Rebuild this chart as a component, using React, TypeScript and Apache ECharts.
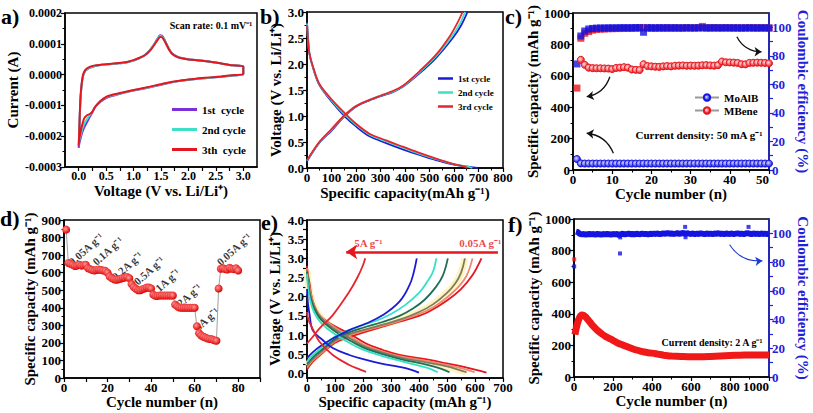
import React, { useEffect, useRef } from 'react';
import * as echarts from 'echarts';

const FONT = "'Liberation Serif', 'Times New Roman', serif";

// ---------- a) CV (current in units of 1e-4 A) ----------
const cvUpperV = [0.0, 0.01, 0.02, 0.03, 0.05, 0.08, 0.12, 0.2, 0.3, 0.4, 0.5, 0.6, 0.7, 0.8, 0.9, 1.0, 1.1, 1.2, 1.3, 1.38, 1.44, 1.48, 1.52, 1.56, 1.6, 1.65, 1.7, 1.8, 1.9, 2.0, 2.2, 2.4, 2.6, 2.8, 3.0];
const cvUpper1 = [-2.38, -1.9, -1.35, -0.9, -0.4, -0.05, 0.12, 0.22, 0.28, 0.31, 0.33, 0.34, 0.36, 0.38, 0.41, 0.46, 0.53, 0.63, 0.8, 1.0, 1.18, 1.28, 1.26, 1.15, 1.0, 0.82, 0.69, 0.58, 0.53, 0.5, 0.46, 0.42, 0.36, 0.3, 0.27];
const cvUpper2 = [-2.3, -1.85, -1.3, -0.85, -0.38, -0.03, 0.13, 0.23, 0.29, 0.31, 0.33, 0.34, 0.36, 0.38, 0.41, 0.46, 0.53, 0.62, 0.79, 0.99, 1.16, 1.25, 1.24, 1.13, 0.99, 0.81, 0.68, 0.57, 0.52, 0.49, 0.46, 0.42, 0.36, 0.3, 0.26];
const cvUpper3 = [-2.3, -1.8, -1.25, -0.8, -0.35, 0.0, 0.15, 0.25, 0.3, 0.32, 0.34, 0.35, 0.37, 0.39, 0.42, 0.47, 0.54, 0.62, 0.78, 0.97, 1.13, 1.22, 1.21, 1.11, 0.97, 0.8, 0.68, 0.57, 0.52, 0.49, 0.46, 0.42, 0.36, 0.3, 0.26];
const cvLowerV = [3.0, 2.8, 2.6, 2.4, 2.2, 2.0, 1.8, 1.6, 1.4, 1.2, 1.0, 0.8, 0.7, 0.6, 0.5, 0.4, 0.3, 0.25, 0.2, 0.15, 0.1, 0.06, 0.03, 0.01, 0.0];
const cvLower1 = [0.0, -0.03, -0.07, -0.1, -0.13, -0.17, -0.22, -0.29, -0.37, -0.45, -0.52, -0.6, -0.65, -0.7, -0.76, -0.88, -1.05, -1.22, -1.38, -1.55, -1.72, -1.9, -2.1, -2.25, -2.38];
const cvLower2 = [0.01, -0.03, -0.06, -0.1, -0.13, -0.17, -0.22, -0.28, -0.36, -0.44, -0.51, -0.59, -0.64, -0.68, -0.74, -0.86, -1.05, -1.2, -1.32, -1.45, -1.6, -1.8, -2.0, -2.15, -2.3];
const cvLower3 = [0.02, -0.02, -0.06, -0.09, -0.12, -0.16, -0.21, -0.27, -0.35, -0.43, -0.5, -0.58, -0.62, -0.66, -0.72, -0.85, -1.05, -1.2, -1.28, -1.32, -1.42, -1.65, -1.9, -2.1, -2.3];

// ---------- b) charge / discharge ----------
const bDis1Cap = [0, 5, 10, 23, 50, 100, 153, 200, 255, 323, 391, 459, 527, 595, 663, 697];
const bDis1V = [2.8, 2.45, 2.2, 1.95, 1.6, 1.28, 1.0, 0.8, 0.61, 0.48, 0.36, 0.25, 0.15, 0.07, 0.02, 0.0];
const bDis2Cap = [0, 5, 10, 23, 50, 100, 153, 200, 255, 323, 391, 459, 527, 595, 650, 675];
const bDis2V = [2.78, 2.42, 2.2, 1.96, 1.61, 1.3, 1.03, 0.83, 0.64, 0.51, 0.39, 0.27, 0.17, 0.08, 0.03, 0.0];
const bDis3Cap = [0, 5, 10, 23, 50, 100, 153, 200, 255, 323, 391, 459, 527, 595, 640, 655];
const bDis3V = [2.75, 2.4, 2.2, 1.97, 1.62, 1.32, 1.06, 0.85, 0.66, 0.53, 0.41, 0.29, 0.18, 0.08, 0.03, 0.0];
const bCh1Cap = [0, 50, 100, 150, 200, 255, 300, 350, 391, 459, 527, 595, 630, 655];
const bCh1V = [0.13, 0.48, 0.72, 0.98, 1.18, 1.3, 1.38, 1.46, 1.56, 1.82, 2.12, 2.5, 2.75, 3.0];
const bCh2Cap = [0, 50, 100, 150, 200, 255, 300, 350, 391, 459, 527, 590, 625, 645];
const bCh2V = [0.14, 0.49, 0.74, 0.99, 1.19, 1.31, 1.39, 1.47, 1.57, 1.84, 2.15, 2.52, 2.78, 3.0];
const bCh3Cap = [0, 50, 100, 150, 200, 255, 300, 350, 391, 459, 527, 585, 615, 635];
const bCh3V = [0.15, 0.5, 0.75, 1.0, 1.19, 1.31, 1.39, 1.48, 1.58, 1.86, 2.18, 2.55, 2.8, 3.0];

// ---------- c) cycling at 50 mA g-1 ----------
const cCycles = Array.from({ length: 50 }, (_, i) => i + 1);
const moalbCap = [70, 42, 41, 41, 41, 41, 41, 41, 41, 41, 41, 41, 41, 41, 41, 41, 41, 41, 41, 41, 41, 41, 41, 41, 41, 41, 41, 41, 41, 41, 41, 41, 41, 41, 41, 41, 41, 41, 41, 41, 41, 41, 41, 41, 41, 41, 41, 41, 41, 41];
const mbeneCap = [null, 702, 670, 652, 649, 648, 648, 647, 646, 643, 650, 652, 655, 652, 640, 638, 637, 674, 662, 660, 658, 657, 660, 662, 660, 664, 665, 666, 664, 665, 664, 665, 667, 668, 666, 665, 668, 691, 686, 685, 684, 682, 674, 673, 682, 683, 684, 683, 682, 680];
const moalbCE = [74.3, 93.9, 97.4, 98.8, 99.2, 99.4, 99.5, 99.5, 99.6, 99.6, 99.6, 99.7, 99.7, 99.7, 99.7, 99.8, 99.8, 96.5, 99.7, 99.7, 99.6, 99.7, 99.6, 99.7, 99.6, 99.7, 99.6, 99.6, 99.7, 99.6, 99.6, 99.7, 99.6, 99.6, 99.6, 99.7, 99.6, 99.6, 99.7, 99.6, 99.6, 99.6, 99.5, 99.6, 99.6, 99.6, 99.5, 99.6, 99.6, 99.5];
const mbeneCE = [57.4, 92.3, 95.8, 97.0, 98.0, 98.5, 98.7, 98.8, 99.0, 99.0, 99.1, 99.1, 99.2, 99.2, 99.2, 99.3, 99.3, 99.8, 99.3, 99.3, 99.3, 99.4, 99.4, 99.4, 99.4, 99.4, 99.4, 99.4, 99.5, 99.5, 99.5, 99.5, 100.6, 99.5, 99.5, 99.5, 99.5, 99.5, 99.5, 99.5, 99.5, 99.5, 99.5, 99.5, 99.6, 99.5, 99.6, 99.5, 99.5, 99.5];
// curved guide arrows in c (cycle, capacity): start / end
const cArrowStart = [[9.4, 594], [10.3, 106], [41.8, 849]];
const cArrowEnd = [[3.5, 467], [3.5, 234], [48.1, 753]];

// ---------- d) rate capability ----------
const dCycles = Array.from({ length: 80 }, (_, i) => i + 1);
const rateCap = [
  845, 655, 650, 645, 638, 640, 645, 640, 642, 645,
  625, 620, 615, 612, 615, 618, 615, 612, 610, 600,
  578, 568, 562, 560, 562, 565, 570, 572, 575, 568,
  535, 518, 508, 500, 500, 505, 510, 515, 515, 510,
  475, 468, 468, 470, 470, 470, 470, 470, 470, 470,
  418, 408, 402, 400, 400, 400, 400, 400, 400, 400,
  295, 255, 242, 235, 230, 225, 222, 220, 215, 212,
  510, 622, 625, 620, 618, 628, 622, 620, 625, 612];
const rateLabels = ['0.05A g⁻¹', '0.1A g⁻¹', '0.2A g⁻¹', '0.5A g⁻¹', '1A g⁻¹', '2A g⁻¹', '5A g⁻¹', '0.05A g⁻¹'];
const rateLabelX = [10, 20, 29, 39, 47.5, 57.5, 65.5, 78];
const rateLabelY = [735, 724, 639, 612, 558, 473, 336, 734];

// ---------- e) curves at different rates ----------
const eNames = ['0.05', '0.1', '0.2', '0.5', '1', '2', '5'];
const eColors = ['#E5161E', '#F08674', '#7E7B60', '#1F6E5A', '#33E0C8', '#1B1BD6', '#E5262E'];
const eChCap = [
  [0, 20, 50, 100, 150, 211, 270, 330, 400, 438, 500, 550, 590, 623],
  [0, 20, 50, 100, 150, 200, 270, 330, 400, 450, 500, 540, 570, 591],
  [0, 20, 50, 100, 150, 200, 270, 330, 400, 450, 500, 530, 550, 564],
  [0, 20, 50, 100, 150, 200, 270, 330, 380, 420, 460, 485, 503],
  [0, 20, 50, 100, 150, 200, 250, 300, 350, 400, 430, 450, 462],
  [0, 20, 50, 92, 151, 211, 271, 330, 366, 380, 392],
  [0, 20, 44, 92, 151, 180, 200, 208]];
const eChV = [
  [0.1, 0.3, 0.5, 0.8, 0.95, 1.09, 1.22, 1.35, 1.5, 1.62, 1.9, 2.2, 2.55, 3.0],
  [0.15, 0.33, 0.52, 0.83, 0.99, 1.1, 1.24, 1.37, 1.55, 1.72, 1.98, 2.25, 2.55, 3.0],
  [0.2, 0.37, 0.56, 0.86, 1.02, 1.13, 1.27, 1.4, 1.6, 1.8, 2.1, 2.35, 2.62, 3.0],
  [0.25, 0.42, 0.6, 0.9, 1.07, 1.19, 1.34, 1.5, 1.7, 1.92, 2.25, 2.55, 3.0],
  [0.3, 0.47, 0.66, 0.96, 1.13, 1.26, 1.38, 1.55, 1.78, 2.1, 2.4, 2.65, 3.0],
  [0.4, 0.55, 0.72, 0.91, 1.13, 1.3, 1.52, 1.87, 2.3, 2.6, 3.0],
  [0.78, 0.95, 1.17, 1.52, 2.13, 2.5, 2.82, 3.0]];
const eDisCap = [
  [0, 3, 8, 20, 44, 92, 151, 211, 271, 330, 438, 500, 560, 600, 641],
  [0, 3, 10, 25, 50, 100, 150, 200, 270, 330, 430, 500, 560, 599],
  [0, 3, 10, 25, 50, 100, 150, 200, 270, 330, 430, 500, 540, 570],
  [0, 3, 10, 25, 50, 100, 150, 200, 270, 330, 430, 480, 509],
  [0, 3, 10, 25, 50, 100, 150, 200, 270, 330, 400, 440, 467],
  [0, 3, 10, 20, 56, 92, 151, 211, 270, 330, 370, 400],
  [0, 5, 20, 44, 92, 151, 190, 211]];
const eDisV = [
  [2.8, 2.6, 2.39, 1.9, 1.52, 1.26, 1.04, 0.78, 0.61, 0.48, 0.35, 0.26, 0.17, 0.1, 0.02],
  [2.75, 2.5, 2.2, 1.8, 1.48, 1.2, 0.98, 0.76, 0.57, 0.45, 0.32, 0.22, 0.12, 0.03],
  [2.7, 2.45, 2.1, 1.75, 1.45, 1.15, 0.93, 0.72, 0.54, 0.42, 0.28, 0.18, 0.1, 0.03],
  [2.65, 2.4, 2.05, 1.7, 1.4, 1.1, 0.87, 0.68, 0.5, 0.38, 0.22, 0.12, 0.03],
  [2.6, 2.3, 1.95, 1.6, 1.32, 1.02, 0.8, 0.62, 0.45, 0.33, 0.2, 0.12, 0.03],
  [2.2, 1.85, 1.5, 1.13, 0.87, 0.66, 0.48, 0.35, 0.25, 0.17, 0.1, 0.02],
  [1.6, 1.4, 1.17, 0.83, 0.48, 0.22, 0.1, 0.04]];
const eArrow = [[682, 3.17], [140, 3.17]];

// ---------- f) long cycling at 2 A g-1 ----------
const fCapCycles = [5, 10, 20, 30, 40, 50, 60, 70, 80, 100, 120, 140, 160, 180, 200, 220, 240, 260, 280, 300, 320, 340, 360, 380, 400, 420, 440, 460, 480, 500, 550, 600, 650, 700, 750, 800, 850, 900, 950, 1000];
const fCap = [268, 300, 350, 380, 392, 390, 380, 365, 350, 320, 295, 275, 258, 245, 232, 218, 207, 198, 188, 179, 171, 164, 158, 154, 151, 147, 142, 138, 135, 133, 130, 128, 128, 130, 133, 136, 138, 139, 140, 140];
const fCapFirst = [[1, 745]];
const fCECycles = Array.from({ length: 100 }, (_, i) => (i + 1) * 10);
const fCE = [
  101.2, 100.8, 99.6, 99.3, 99.5, 99.2, 99.4, 99.6, 99.3, 99.5,
  99.2, 99.6, 99.4, 99.1, 99.5, 99.3, 99.6, 99.4, 99.2, 99.5,
  99.3, 99.6, 98.8, 99.4, 99.7, 99.3, 99.5, 99.8, 99.4, 99.6,
  99.3, 99.7, 99.5, 99.4, 99.8, 99.5, 99.6, 99.3, 99.7, 99.5,
  99.8, 99.6, 99.9, 99.5, 99.7, 100.0, 99.6, 100.3, 99.7, 99.9,
  99.6, 99.8, 100.1, 99.7, 99.9, 100.4, 99.5, 100.2, 99.8, 99.6,
  99.9, 99.5, 99.8, 99.6, 100.0, 99.7, 99.5, 99.9, 99.6, 99.8,
  99.5, 99.9, 99.7, 100.1, 99.6, 99.8, 99.5, 99.9, 99.7, 99.6,
  99.9, 99.5, 99.8, 100.0, 99.6, 99.8, 99.5, 99.9, 100.2, 99.7,
  99.5, 99.9, 99.6, 99.8, 99.5, 99.9, 99.6, 99.8, 99.5, 99.7];
const fCEOutliers = [[1, 77], [236, 86], [237, 97.2], [570, 104.5], [572, 97.3], [895, 104.5]];
const fArrow = [[798, 92.1], [966, 80.9]]; // in CE units

// ---------- helpers ----------
const zip = (xs: number[], ys: (number | null)[]) => xs.map((x, i) => [x, ys[i] == null ? '-' : ys[i]]);
const range = (a: number, b: number, s: number) => {
  const out: number[] = [];
  for (let v = a; v <= b + 1e-9; v += s) out.push(Math.round(v * 1000) / 1000);
  return out;
};

function vAxis(p: any) {
  const color = p.color || '#000';
  const ax: any = {
    type: 'value', gridIndex: p.grid, min: p.min, max: p.max,
    name: p.name, nameLocation: 'middle', nameGap: p.nameGap,
    nameTextStyle: { color, fontFamily: FONT, fontWeight: 'bold', fontSize: p.nameSize || 15 },
    axisLine: { show: true, onZero: false, lineStyle: { color, width: 1.5 } },
    axisTick: { show: true, length: 4, lineStyle: { color, width: 1.2 } },
    minorTick: { show: !p.tickValues, splitNumber: 2, length: 2.5, lineStyle: { color, width: 1 } },
    splitLine: { show: false },
    axisLabel: { color, fontFamily: FONT, fontWeight: 'bold', fontSize: p.labelSize || 13, margin: 3, formatter: p.fmt || ((v: number) => String(v)) },
  };
  if (p.position) ax.position = p.position;
  if (p.nameRotate != null) ax.nameRotate = p.nameRotate;
  if (p.interval != null) ax.interval = p.interval;
  if (p.labelValues) ax.axisLabel.customValues = p.labelValues;
  if (p.tickValues) ax.axisTick.customValues = p.tickValues;
  if (p.alignMax) ax.axisLabel.alignMaxLabel = p.alignMax;
  return ax;
}

const f1 = (v: number) => (Math.abs(v) < 1e-9 ? 0 : v).toFixed(1);

function ballGradient(light: string, dark: string) {
  return new echarts.graphic.RadialGradient(0.4, 0.4, 0.6, [
    { offset: 0, color: light },
    { offset: 1, color: dark },
  ]);
}

function textEl(text: string, x: number, y: number, size: number, fill = '#000', align = 'left') {
  return {
    type: 'text', x, y, z: 100,
    style: { text, fill, font: `bold ${size}px ${FONT}`, align, textAlign: align, verticalAlign: 'middle', textVerticalAlign: 'middle' },
  };
}

function arrows(xi: number, yi: number, starts: number[][], ends: number[][], curv: number[], color: string, width: number, size: number) {
  return {
    type: 'lines', coordinateSystem: 'cartesian2d', xAxisIndex: xi, yAxisIndex: yi, silent: true, z: 5,
    symbol: ['none', 'arrow'], symbolSize: size,
    data: starts.map((s, i) => ({ coords: [s, ends[i]], lineStyle: { curveness: curv[i] } })),
    lineStyle: { color, width, opacity: 1, type: 'solid' },
  };
}

function buildOption() {
  const blue = '#1E22D8';

  const grid = [
    { left: 65, top: 13, width: 192, height: 154 },
    { left: 307, top: 12, width: 196, height: 156 },
    { left: 573, top: 13, width: 196, height: 157 },
    { left: 64, top: 220, width: 196, height: 158 },
    { left: 307, top: 220, width: 196, height: 158 },
    { left: 574, top: 219, width: 195, height: 158 },
  ].map((g) => ({ ...g, show: true, borderColor: '#000', borderWidth: 1.5, backgroundColor: 'transparent', containLabel: false }));

  const xAxis = [
    vAxis({ grid: 0, min: -0.25, max: 3.25, labelValues: range(0, 3, 0.5), tickValues: range(0, 3, 0.25), fmt: f1, name: 'Voltage (V vs. Li/Li⁺)', nameGap: 16, labelSize: 12 }),
    vAxis({ grid: 1, min: 0, max: 800, interval: 100, name: 'Specific capacity(mAh g⁻¹)', nameGap: 17 }),
    vAxis({ grid: 2, min: 0, max: 50, interval: 10, name: 'Cycle number (n)', nameGap: 15, alignMax: 'right' }),
    vAxis({ grid: 3, min: 0, max: 90, labelValues: [0, 20, 40, 60, 80], tickValues: range(0, 90, 10), name: 'Cycle number (n)', nameGap: 15 }),
    vAxis({ grid: 4, min: 0, max: 700, interval: 100, name: 'Specific capacity (mAh g⁻¹)', nameGap: 16 }),
    vAxis({ grid: 5, min: 0, max: 1000, interval: 200, name: 'Cycle number (n)', nameGap: 15, alignMax: 'right' }),
  ];

  const yAxis = [
    vAxis({ grid: 0, min: -0.0003, max: 0.0002, interval: 0.0001, fmt: (v: number) => (Math.abs(v) < 1e-12 ? 0 : v).toFixed(4), name: 'Current (A)', nameGap: 45, labelSize: 12 }),
    vAxis({ grid: 1, min: 0, max: 3, interval: 0.5, fmt: f1, name: 'Voltage (V vs. Li/Li⁺)', nameGap: 20 }),
    vAxis({ grid: 2, min: 0, max: 1000, interval: 200, name: 'Specific capacity (mAh g⁻¹)', nameGap: 32 }),
    vAxis({ grid: 2, min: 0, max: 110, position: 'right', color: blue, labelValues: range(0, 100, 20), tickValues: range(0, 100, 10), name: 'Coulombic efficiency (%)', nameGap: 26, nameRotate: -90 }),
    vAxis({ grid: 3, min: 0, max: 900, interval: 100, name: 'Specific capacity (mAh g⁻¹)', nameGap: 26 }),
    vAxis({ grid: 4, min: -0.12, max: 4, labelValues: range(0, 4, 0.5), tickValues: range(0, 4, 0.25), fmt: f1, name: 'Voltage (V vs. Li/Li⁺)', nameGap: 25 }),
    vAxis({ grid: 5, min: 0, max: 1000, interval: 200, name: 'Specific capacity (mAh g⁻¹)', nameGap: 30 }),
    vAxis({ grid: 5, min: 0, max: 110, position: 'right', color: blue, labelValues: range(0, 100, 20), tickValues: range(0, 100, 10), name: 'Coulombic efficiency (%)', nameGap: 26, nameRotate: -90 }),
  ];

  const series: any[] = [];
  const line = (name: string, xi: number, yi: number, data: any[], color: string, width = 1.8, extra: any = {}) => ({
    type: 'line', name, xAxisIndex: xi, yAxisIndex: yi, data, symbol: 'none', smooth: 0.3,
    lineStyle: { color, width }, itemStyle: { color }, silent: true, ...extra,
  });

  // a
  const cvColors = ['#7B30D8', '#3DE0C6', '#E5161E'];
  const cvU = [cvUpper1, cvUpper2, cvUpper3];
  const cvL = [cvLower1, cvLower2, cvLower3];
  ['a1', 'a2', 'a3'].forEach((n, i) => {
    const data = cvUpperV.map((v, j) => [v, cvU[i][j] * 1e-4]).concat(cvLowerV.map((v, j) => [v, cvL[i][j] * 1e-4]));
    series.push(line(n, 0, 0, data, cvColors[i], 2, { smooth: 0.2 }));
  });

  // b
  const bColors = ['#1B1BD6', '#3DE0C6', '#E5262E'];
  const bDis = [[bDis1Cap, bDis1V], [bDis2Cap, bDis2V], [bDis3Cap, bDis3V]];
  const bCh = [[bCh1Cap, bCh1V], [bCh2Cap, bCh2V], [bCh3Cap, bCh3V]];
  ['b1', 'b2', 'b3'].forEach((n, i) => {
    series.push(line(n, 1, 1, zip(bDis[i][0], bDis[i][1]), bColors[i], 1.8));
    series.push(line(n, 1, 1, zip(bCh[i][0], bCh[i][1]), bColors[i], 1.8));
  });

  // c
  series.push({
    type: 'scatter', name: 'MBeneCE', xAxisIndex: 2, yAxisIndex: 3, symbol: 'rect', symbolSize: 7,
    data: zip(cCycles, mbeneCE), itemStyle: { color: '#E8141C' }, silent: true,
  });
  series.push({
    type: 'scatter', name: 'MoAlBCE', xAxisIndex: 2, yAxisIndex: 3, symbol: 'rect', symbolSize: 7,
    data: zip(cCycles, moalbCE), itemStyle: { color: '#1414E0' }, silent: true,
  });
  series.push({
    type: 'line', name: 'MoAlB', xAxisIndex: 2, yAxisIndex: 2, data: zip(cCycles, moalbCap),
    symbol: 'circle', symbolSize: 7, showSymbol: true, lineStyle: { color: '#999', width: 0.8 },
    itemStyle: { color: ballGradient('#d8d8ff', '#1414E0'), borderColor: '#1414E0', borderWidth: 1 }, silent: true,
  });
  series.push({
    type: 'line', name: 'MBene', xAxisIndex: 2, yAxisIndex: 2, data: zip(cCycles, mbeneCap),
    symbol: 'circle', symbolSize: 7, showSymbol: true, lineStyle: { color: '#999', width: 0.8 },
    itemStyle: { color: ballGradient('#ffe0e0', '#E8141C'), borderColor: '#E8141C', borderWidth: 1 }, silent: true,
  });
  series.push(arrows(2, 2, cArrowStart, cArrowEnd, [0.3, -0.3, -0.3], '#111', 1.3, 7));

  // d
  series.push({
    type: 'line', name: 'rate', xAxisIndex: 3, yAxisIndex: 4, data: zip(dCycles, rateCap),
    symbol: 'circle', symbolSize: 8, showSymbol: true, lineStyle: { color: '#888', width: 0.8 },
    itemStyle: { color: ballGradient('#ff9a9a', '#E00000') }, silent: true,
  });
  series.push({
    type: 'scatter', name: 'rateLabels', xAxisIndex: 3, yAxisIndex: 4, symbolSize: 0, silent: true,
    data: rateLabels.map((t, i) => ({ name: t, value: [rateLabelX[i], rateLabelY[i]] })),
    label: { show: true, position: 'inside', rotate: 42, formatter: '{b}', color: '#000', fontFamily: FONT, fontWeight: 'bold', fontSize: 11 },
  });

  // e : pale yellow halo under the middle curves, then the curves
  series.push(line('eHaloC', 4, 5, zip(eChCap[2], eChV[2]), '#FFF4BE', 7, { smooth: 0.4 }));
  series.push(line('eHaloD', 4, 5, zip(eDisCap[2], eDisV[2]), '#FFF4BE', 7, { smooth: 0.4 }));
  eNames.forEach((n, i) => {
    series.push(line('e' + n + 'c', 4, 5, zip(eChCap[i], eChV[i]), eColors[i], 1.8, { smooth: 0.4 }));
    series.push(line('e' + n + 'd', 4, 5, zip(eDisCap[i], eDisV[i]), eColors[i], 1.8, { smooth: 0.4 }));
  });
  series.push(arrows(4, 5, [eArrow[0]], [eArrow[1]], [0], '#E5161E', 2.5, 11));
  series.push({
    type: 'scatter', name: 'eLabels', xAxisIndex: 4, yAxisIndex: 5, symbolSize: 0, silent: true,
    data: [{ name: '5A g⁻¹', value: [219, 3.41] }, { name: '0.05A g⁻¹', value: [619, 3.39] }],
    label: { show: true, position: 'inside', formatter: '{b}', color: '#E5161E', fontFamily: FONT, fontWeight: 'bold', fontSize: 11 },
  });

  // f
  series.push(line('fCap', 5, 6, zip(fCapCycles, fCap), '#F01818', 7, { smooth: 0.3 }));
  series.push({
    type: 'scatter', name: 'fCapFirst', xAxisIndex: 5, yAxisIndex: 6, symbol: 'rect', symbolSize: 4,
    data: fCapFirst, itemStyle: { color: '#F01818' }, silent: true,
  });
  series.push(line('fCE', 5, 7, zip(fCECycles, fCE), '#1414E0', 6, { smooth: false }));
  series.push({
    type: 'scatter', name: 'fCEOut', xAxisIndex: 5, yAxisIndex: 7, symbol: 'rect', symbolSize: 4,
    data: fCEOutliers, itemStyle: { color: '#1414E0' }, silent: true,
  });
  series.push(arrows(5, 7, [fArrow[0]], [fArrow[1]], [-0.3], '#1E3AD0', 1.2, 7));

  const legendText: Record<string, string> = {
    a1: '1st  cycle', a2: '2nd cycle', a3: '3th  cycle',
    b1: '1st cycle', b2: '2nd cycle', b3: '3rd cycle',
  };
  const legTS = (size: number) => ({ color: '#000', fontFamily: FONT, fontWeight: 'bold', fontSize: size });
  const legend = [
    { data: ['a1', 'a2', 'a3'], icon: 'rect', orient: 'vertical', left: 172, top: 104, itemWidth: 25, itemHeight: 3, itemGap: 9, selectedMode: false, formatter: (n: string) => legendText[n], textStyle: legTS(11), padding: 0 },
    { data: ['b1', 'b2', 'b3'], icon: 'rect', orient: 'vertical', left: 438, top: 74, itemWidth: 15, itemHeight: 2.5, itemGap: 5, selectedMode: false, formatter: (n: string) => legendText[n], textStyle: legTS(9), padding: 0 },
    { data: ['MoAlB', 'MBene'], orient: 'vertical', left: 694, top: 92, itemWidth: 24, itemHeight: 8, itemGap: 2, selectedMode: false, textStyle: legTS(11), padding: 0 },
  ];

  const graphic = [
    textEl('a)', 1, 16, 22),
    textEl('b)', 260, 16, 22),
    textEl('c)', 505, 16, 22),
    textEl('d)', 0, 218, 22),
    textEl('e)', 261, 222, 22),
    textEl('f)', 508, 224, 22),
    textEl('Scan rate: 0.1 mV⁻¹', 211, 25, 10, '#000', 'center'),
    textEl('Current density: 50 mA g⁻¹', 699, 135, 11, '#000', 'center'),
    textEl('Current density: 2 A g⁻¹', 712, 342, 10, '#000', 'center'),
  ];

  return {
    animation: false,
    backgroundColor: '#fff',
    textStyle: { fontFamily: FONT },
    grid, xAxis, yAxis, series, legend, graphic,
  };
}

export default function App() {
  const ref = useRef<HTMLDivElement>(null);
  useEffect(() => {
    const chart = echarts.init(ref.current!, null, { renderer: 'svg' });
    chart.setOption(buildOption() as any);
    return () => chart.dispose();
  }, []);
  return <div ref={ref} style={{ position: 'fixed', left: 0, top: 0, width: 813, height: 413, background: '#fff' }} />;
}
